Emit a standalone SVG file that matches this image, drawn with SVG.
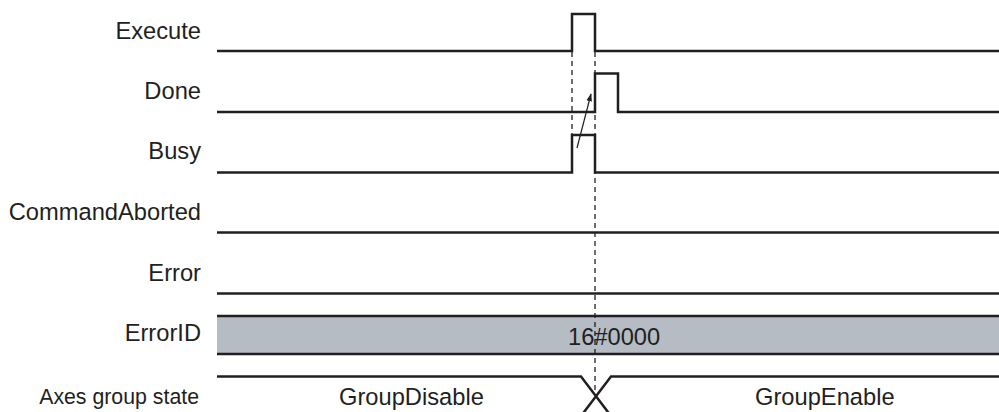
<svg xmlns="http://www.w3.org/2000/svg" width="999" height="412" viewBox="0 0 999 412">
<style>
.sig{fill:none;stroke:#231f20;stroke-width:2.5;stroke-linejoin:miter}
.dash{fill:none;stroke:#231f20;stroke-width:1.3;stroke-dasharray:5 4}
.lbl{font-family:"Liberation Sans",Arial,sans-serif;font-size:23.7px;fill:#231f20;text-anchor:end}
.val{font-family:"Liberation Sans",Arial,sans-serif;font-size:23.7px;fill:#231f20}
</style>
<defs>
<marker id="ah" viewBox="0 0 10 10" refX="9" refY="5" markerWidth="8" markerHeight="8" markerUnits="userSpaceOnUse" orient="auto">
<path d="M0,1.5 L10,5 L0,8.5 z" fill="#231f20"/>
</marker>
</defs>
<rect width="999" height="412" fill="#ffffff"/>
<g id="label-execute"><text class="lbl" x="201" y="39">Execute</text></g>
<g id="label-done"><text class="lbl" x="201" y="99">Done</text></g>
<g id="label-busy"><text class="lbl" x="201" y="159">Busy</text></g>
<g id="label-commandaborted"><text class="lbl" x="201" y="220">CommandAborted</text></g>
<g id="label-error"><text class="lbl" x="201" y="281">Error</text></g>
<g id="label-errorid"><text class="lbl" x="201" y="341">ErrorID</text></g>
<g id="label-axes"><text class="lbl" x="199" y="404" style="font-size:21.3px">Axes group state</text></g>

<g id="sig-execute"><path class="sig" d="M217,51 H572 V14 H595 V51 H999"/></g>
<g id="sig-done"><path class="sig" d="M217,112 H595 V73.5 H618 V112 H999"/></g>
<g id="sig-busy"><path class="sig" d="M217,172.5 H572 V135 H595 V172.5 H999"/></g>
<g id="sig-commandaborted"><path class="sig" d="M217,232.5 H999"/></g>
<g id="sig-error"><path class="sig" d="M217,293.5 H999"/></g>
<g id="sig-errorid">
<rect x="217" y="316" width="782" height="38" fill="#b5bcc3"/>
<path class="sig" d="M217,316 H999 M217,354 H999"/>
<text class="val" x="568" y="345">16#0000</text>
</g>
<g id="sig-axes">
<path class="sig" d="M217,376.5 H581 L611,416 M999,376.5 H611 L581,416"/>
<text class="val" x="339" y="405">GroupDisable</text>
<text class="val" x="755" y="405">GroupEnable</text>
</g>

<g id="connectors">
<path class="dash" d="M572,52 V135"/>
<path class="dash" d="M595,52 V392"/>
<path d="M577,148 L591,94" fill="none" stroke="#231f20" stroke-width="1.2" marker-end="url(#ah)"/>
</g>
</svg>
